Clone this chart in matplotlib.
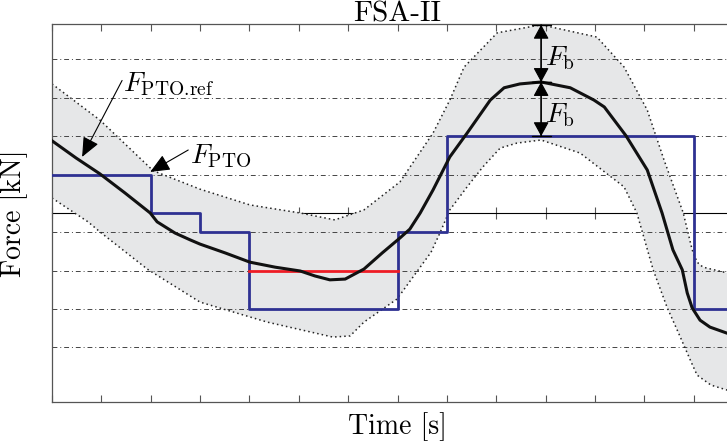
import numpy as np
import matplotlib
matplotlib.use("Agg")
import matplotlib.pyplot as plt

plt.rcParams["font.family"] = ["cmr10", "DejaVu Serif"]
plt.rcParams["mathtext.fontset"] = "cm"
plt.rcParams["axes.formatter.use_mathtext"] = True

# ---- data (time in tick units, force in grid units) -------------------------
ref_t = [0.00, 0.49, 0.97, 1.48, 1.99, 2.13, 2.49, 2.80, 3.00, 3.51, 4.01, 4.52, 5.03,
         5.33, 5.63, 5.94, 6.10, 6.32, 6.69, 7.05, 7.25, 7.46, 7.72, 8.06, 8.41, 8.88,
         9.16, 9.48, 9.91, 10.50, 10.98, 11.19, 11.63, 12.06, 12.36, 12.58, 12.77, 12.87,
         12.97, 13.13, 13.33, 13.68]
ref_f = [1.88, 1.43, 1.02, 0.52, 0.00, -0.23, -0.52, -0.70, -0.81, -1.04, -1.28, -1.41, -1.51,
         -1.64, -1.74, -1.72, -1.61, -1.46, -1.04, -0.65, -0.42, 0.00, 0.60, 1.46, 2.08, 2.94,
         3.26, 3.36, 3.41, 3.26, 2.94, 2.76, 2.01, 1.12, 0.00, -0.96, -1.48, -2.08,
         -2.47, -2.79, -2.97, -3.13]

up_t = [0.00, 0.97, 2.05, 3.00, 4.01, 5.03, 5.73, 6.32, 7.05, 7.72, 8.06, 8.35, 9.02, 9.91,
        11.04, 11.59, 12.06, 12.40, 12.79, 12.97, 13.07, 13.19, 13.68]
up_f = [3.36, 2.42, 1.10, 0.62, 0.21, 0.00, -0.18, 0.08, 0.81, 2.08, 2.94, 3.80, 4.69, 4.90,
        4.58, 3.80, 2.68, 1.38, 0.00, -0.96, -1.28, -1.41, -1.56]

lo_t = [0.00, 0.73, 0.97, 1.93, 3.00, 4.36, 5.69, 6.04, 6.32, 6.99, 7.68, 7.86, 8.06, 8.41,
        8.73, 9.08, 9.42, 9.91, 10.70, 11.59, 11.85, 12.18, 12.46, 12.73, 12.95, 13.07,
        13.35, 13.68]
lo_f = [0.39, -0.23, -0.49, -1.46, -2.32, -2.84, -3.23, -3.20, -2.84, -2.24, -1.02, -0.52,
        0.08, 0.68, 1.20, 1.69, 1.82, 1.90, 1.56, 0.68, 0.00, -1.48, -2.45, -3.23, -3.88,
        -4.22, -4.48, -4.61]

pto_t = [0, 2, 3, 4, 7, 8, 13, 13.7]
pto_f = [1.0, 0.0, -0.5, -2.5, -0.5, 2.0, -2.5, -2.5]

red_t = [4, 7]
red_f = [-1.5, -1.5]

grid_f = [4, 3, 2, 1, -0.5, -1.5, -2.5, -3.5]
ticks_t = list(range(15))

BLUE, RED, GREY = "#2E3192", "#EE1C25", "#555555"

fig = plt.figure(figsize=(7.27, 4.43), dpi=100)
ax = fig.add_axes([52 / 727, 41 / 443, (743 - 52) / 727, 378 / 443])

# tolerance band
ax.fill(np.concatenate([up_t, lo_t[::-1]]), np.concatenate([up_f, lo_f[::-1]]),
        color="#E6E7E8", lw=0, zorder=1)
ax.plot(up_t, up_f, ls=(0, (1, 2)), color="#222222", lw=1.1, zorder=2)
ax.plot(lo_t, lo_f, ls=(0, (1, 2)), color="#222222", lw=1.1, zorder=2)

ax.step(pto_t, pto_f, where="post", color=BLUE, lw=2.0, zorder=3)
ax.plot(red_t, red_f, color=RED, lw=2.0, zorder=4)
ax.plot(ref_t, ref_f, color="#111111", lw=2.2, zorder=5)

ax.set_xlim(0, 14)
ax.set_ylim(-4.92, 4.92)
ax.set_xticks(ticks_t)
ax.set_xticklabels([])
ax.set_yticks(grid_f)
ax.set_yticklabels([])
ax.tick_params(axis="x", direction="in", top=True, length=5, width=0.8, color=GREY)
ax.tick_params(axis="y", length=0)
ax.grid(axis="y", ls=(0, (5, 3, 1, 3)), lw=0.7, color="#444444")
for s in ax.spines.values():
    s.set_color(GREY)
    s.set_linewidth(0.9)

# zero axis with ticks
zx = ax.secondary_xaxis(0.5)
zx.set_xticks(ticks_t)
zx.set_xticklabels([])
zx.tick_params(direction="inout", length=9, width=0.8, color=GREY)
zx.spines["bottom"].set_color(GREY)
zx.spines["bottom"].set_linewidth(0.9)

# annotations
arw = dict(arrowstyle="-|>,head_length=0.6,head_width=0.26", color="k", lw=0.8,
           shrinkA=0, shrinkB=0, mutation_scale=20)
ax.annotate("", xy=(0.61, 1.46), xytext=(1.42, 3.45), arrowprops=arw, zorder=6)
ax.text(1.44, 3.18, r"$F_{\mathrm{PTO.\!ref}}$", fontsize=20, ha="left", va="baseline")
ax.annotate("", xy=(1.99, 1.07), xytext=(2.76, 1.64), arrowprops=arw, zorder=6)
ax.text(2.8, 1.30, r"$F_{\mathrm{PTO}}$", fontsize=20, ha="left", va="baseline")

i_pk = int(np.argmax(ref_f))
t_pk, f_pk = ref_t[i_pk], ref_f[i_pk]
f_top = max(up_f)
f_lvl = max(pto_f)
dbl = dict(arrowstyle="<|-|>,head_length=0.55,head_width=0.3", color="k", lw=0.8,
           shrinkA=0, shrinkB=0, mutation_scale=16)
bar = dict(arrowstyle="|-|,widthA=0.45,widthB=0.45", color="k", lw=1.0,
           shrinkA=0, shrinkB=0, mutation_scale=15)
for y0, y1 in [(f_top, f_pk), (f_pk, f_lvl)]:
    ax.annotate("", xy=(t_pk, y1), xytext=(t_pk, y0), arrowprops=dbl, zorder=6)
    ax.annotate("", xy=(t_pk, y1), xytext=(t_pk, y0), arrowprops=bar, zorder=6)
ax.text(t_pk + 0.07, 3.85, r"$F_{\mathrm{b}}$", fontsize=20, ha="left", va="baseline")
ax.text(t_pk + 0.07, 2.37, r"$F_{\mathrm{b}}$", fontsize=20, ha="left", va="baseline")

ax.set_title("FSA-II", fontsize=21, pad=2)
ax.set_xlabel("Time [s]", fontsize=20, labelpad=4)
ax.set_ylabel("Force [kN]", fontsize=20, labelpad=14)

fig.savefig("out.png", dpi=100)
